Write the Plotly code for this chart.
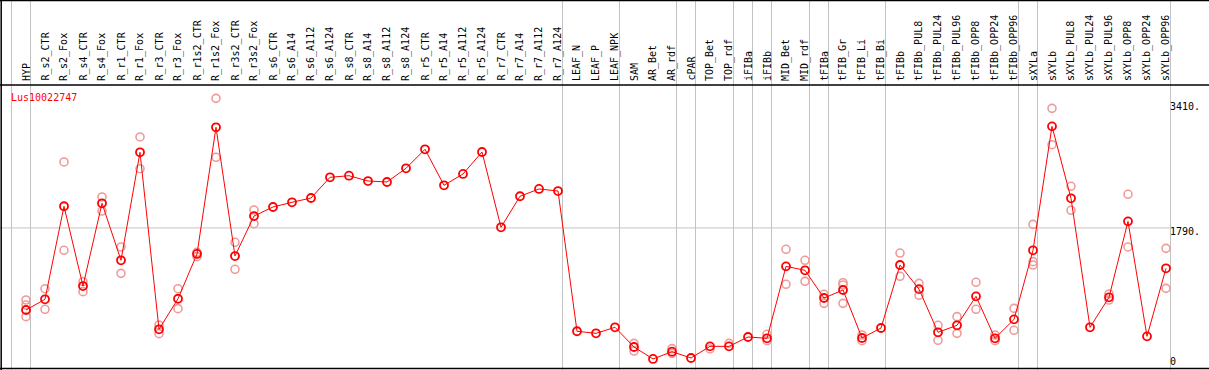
import plotly.graph_objects as go

categories = ["HYP", "R_s2_CTR", "R_s2_Fox", "R_s4_CTR", "R_s4_Fox", "R_r1_CTR", "R_r1_Fox",
              "R_r3_CTR", "R_r3_Fox", "R_r1s2_CTR", "R_r1s2_Fox", "R_r3s2_CTR", "R_r3s2_Fox",
              "R_s6_CTR", "R_s6_A14", "R_s6_A112", "R_s6_A124", "R_s8_CTR", "R_s8_A14",
              "R_s8_A112", "R_s8_A124", "R_r5_CTR", "R_r5_A14", "R_r5_A112", "R_r5_A124",
              "R_r7_CTR", "R_r7_A14", "R_r7_A112", "R_r7_A124", "LEAF_N", "LEAF_P", "LEAF_NPK",
              "SAM", "AR_Bet", "AR_rdf", "cPAR", "TOP_Bet", "TOP_rdf", "iFIBa", "iFIBb",
              "MID_Bet", "MID_rdf", "tFIBa", "tFIB_Gr", "tFIB_Li", "tFIB_Bi", "tFIBb",
              "tFIBb_PUL8", "tFIBb_PUL24", "tFIBb_PUL96", "tFIBb_OPP8", "tFIBb_OPP24",
              "tFIBb_OPP96", "sXYLa", "sXYLb", "sXYLb_PUL8", "sXYLb_PUL24", "sXYLb_PUL96",
              "sXYLb_OPP8", "sXYLb_OPP24", "sXYLb_OPP96"]

mean_values = [756, 891, 2063, 1058, 2100, 1382, 2743, 513, 898, 1462, 3058, 1436, 1940,
               2054, 2113, 2167, 2428, 2448, 2381, 2369, 2541, 2781, 2327, 2470, 2747,
               1798, 2189, 2281, 2255, 488, 462, 538, 290, 139, 231, 151, 298, 298, 416, 399,
               1306, 1256, 907, 1008, 403, 529, 1323, 1019, 475, 563, 928, 399, 638,
               1508, 3070, 2163, 538, 916, 1873, 424, 1281]

rep1 = [882, 1024, 2621, 1113, 2180, 1550, 2936, 567, 1024, 1483, 3423, 1609, 2016,
        None, None, None, None, None, None, None, None, None, None, None, None,
        None, None, None, None, None, None, None, 336, None, 269, None, 265, 336, None, 450,
        1521, 1382, 954, 1100, 441, None, 1474, 1092, 563, 672, 1105, 441, 777,
        1835, 3297, 2315, None, 958, 2214, None, 1533]

rep2 = [672, 765, 1508, 987, 2003, 1218, 2536, 458, 773, 1428, 2680, 1269, 1843,
        None, None, None, None, None, None, None, None, None, None, None, None,
        None, None, None, None, None, None, None, 239, None, 210, None, None, None, None, 369,
        1080, 1117, 840, 840, 369, None, 1181, 941, 374, 462, 765, 369, 500,
        1323, 2839, 2012, None, 882, 1550, None, 1029]

rep3 = [819] + [None] * 42 + [1071] + [None] * 9 + [1365] + [None] * 7

# index of last category in each column group (gridline drawn right after it)
group_ends = [-1, 0, 28, 31, 34, 35, 37, 38, 39, 41, 42, 45, 52, 53, 60]

ytick_vals = [3410, 1790, 0]
ytick_text = ["3410.", "1790.", "0"]
gene_id = "Lus10022747"

W, H = 1209, 370
X0, DX = 26, 19          # pixel position of first category, spacing
Y_TOP = 4662             # value at top pixel row (0 at bottom)

xs = list(range(len(categories)))
RED = "#ff0000"
PALE = "#f09a9a"
GRID = "#c3c3c3"
FONT = "DejaVu Sans Mono"

fig = go.Figure()

for rep in (rep1, rep2, rep3):
    fig.add_trace(go.Scatter(
        x=xs, y=rep, mode="markers",
        marker=dict(symbol="circle-open", size=8, color=PALE, line=dict(width=1.6, color=PALE)),
        hoverinfo="skip", showlegend=False))

fig.add_trace(go.Scatter(
    x=xs, y=mean_values, mode="lines+markers",
    line=dict(color=RED, width=1),
    marker=dict(symbol="circle-open", size=8, color=RED, line=dict(width=1.8, color=RED)),
    showlegend=False))

shapes = []
off = 4.5 / DX
for g in group_ends:
    shapes.append(dict(type="line", xref="x", yref="paper", x0=g + off, x1=g + off, y0=0, y1=1,
                       line=dict(color=GRID, width=1), layer="below"))
shapes.append(dict(type="line", xref="paper", yref="y", x0=0, x1=(X0 + DX * (len(categories) - 1) + 4.5) / W,
                   y0=1790, y1=1790, line=dict(color=GRID, width=1), layer="below"))
# black frame lines
shapes.append(dict(type="line", xref="paper", yref="paper", x0=0, x1=1, y0=1 - 0.5 / H, y1=1 - 0.5 / H,
                   line=dict(color="black", width=1.5)))
shapes.append(dict(type="line", xref="paper", yref="paper", x0=0, x1=1, y0=1 - 85 / H, y1=1 - 85 / H,
                   line=dict(color="black", width=1.5)))
shapes.append(dict(type="line", xref="paper", yref="paper", x0=0, x1=1, y0=1 - 368.5 / H, y1=1 - 368.5 / H,
                   line=dict(color="black", width=1.5)))
shapes.append(dict(type="line", xref="paper", yref="paper", x0=1.2 / W, x1=1.2 / W, y0=0, y1=1,
                   line=dict(color="black", width=1.5)))

annotations = []
for i, c in enumerate(categories):
    annotations.append(dict(x=i, y=1 - 83 / H, xref="x", yref="paper", text=c, textangle=-90,
                            showarrow=False, xanchor="center", yanchor="bottom",
                            font=dict(family=FONT, size=10, color="black")))
annotations.append(dict(x=9 / W, y=1 - 97 / H, xref="paper", yref="paper", text=gene_id,
                        showarrow=False, xanchor="left", yanchor="middle",
                        font=dict(family=FONT, size=10, color=RED)))
yshifts = [-7, -4, 1]
for v, t, s in zip(ytick_vals, ytick_text, yshifts):
    annotations.append(dict(x=1168 / W, y=v, xref="paper", yref="y", text=t, showarrow=False,
                            xanchor="left", yanchor="middle" if v else "bottom", yshift=s,
                            font=dict(family=FONT, size=10, color="black")))

fig.update_layout(
    width=W, height=H, margin=dict(l=0, r=0, t=0, b=0),
    paper_bgcolor="white", plot_bgcolor="white",
    xaxis=dict(range=[-X0 / DX, (W - X0) / DX], visible=False, fixedrange=True),
    yaxis=dict(range=[0, Y_TOP], visible=False, fixedrange=True),
    shapes=shapes, annotations=annotations, showlegend=False,
)

fig.write_html("out.html", config={"displayModeBar": False},
               post_script="document.body.style.margin='0';document.body.style.overflow='hidden';")
